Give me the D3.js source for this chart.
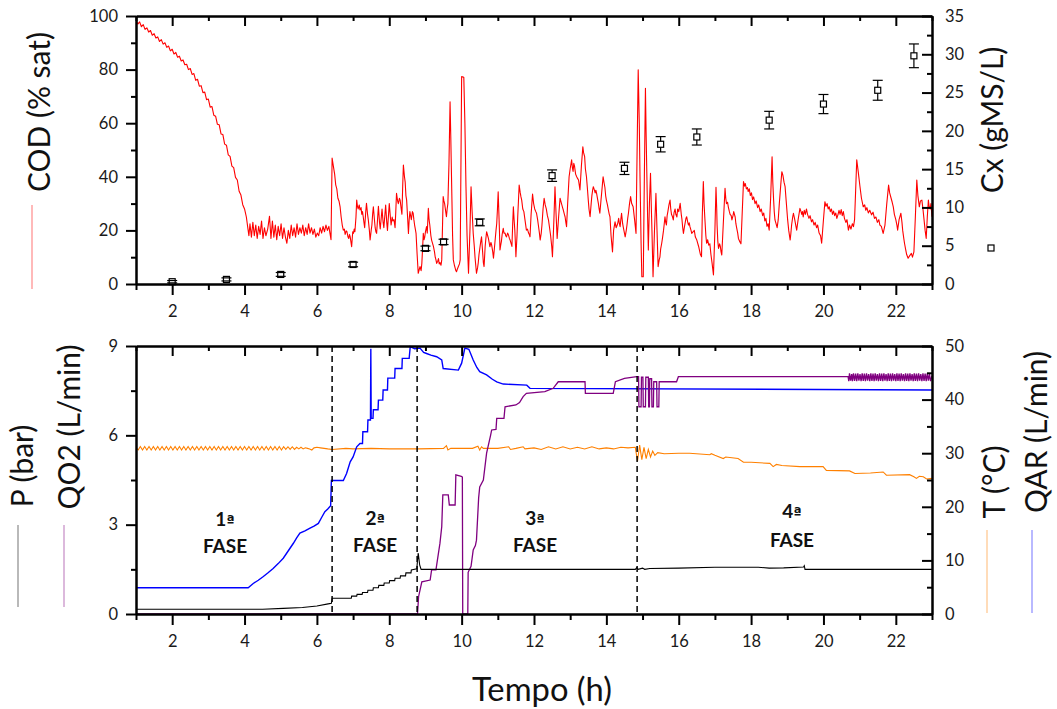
<!DOCTYPE html>
<html>
<head>
<meta charset="utf-8">
<script src="https://cdn.jsdelivr.net/npm/d3@7"></script>
<style>
  html, body { margin: 0; padding: 0; background: #fff; }
  svg { display: block; font-family: Lato, "Open Sans", sans-serif; }
  .axis path, .axis line { stroke: #000; stroke-width: 2; }
  .axis text { fill: #1a1a1a; font-family: Lato, "Open Sans", sans-serif; }
</style>
</head>
<body>
<svg id="chart" width="1057" height="709"></svg>
<script>
// ---------- time axis ----------
const timeMajorTicks = [2, 4, 6, 8, 10, 12, 14, 16, 18, 20, 22];
const timeMinorTicks = [1, 3, 5, 7, 9, 11, 13, 15, 17, 19, 21, 23];

// ---------- upper panel: dissolved oxygen (COD, % sat) ----------
const codSeries = [
  [1.00,98.5],[1.05,97.0],[1.10,97.8],[1.15,96.0],[1.20,96.8],[1.25,95.0],[1.30,95.6],[1.35,94.0],
  [1.40,94.6],[1.45,92.8],[1.50,93.4],[1.55,91.8],[1.60,92.2],[1.65,90.5],[1.70,91.2],[1.75,89.5],
  [1.80,90.0],[1.85,88.3],[1.90,88.8],[1.95,87.0],[2.00,87.6],[2.05,85.8],[2.10,86.4],[2.15,84.6],
  [2.20,85.0],[2.25,83.2],[2.30,83.6],[2.35,81.8],[2.40,82.0],[2.45,80.0],[2.50,80.4],[2.55,78.2],
  [2.60,78.5],[2.65,76.0],[2.70,76.4],[2.75,73.8],[2.80,74.0],[2.85,71.4],[2.90,71.6],[2.95,68.8],
  [3.00,69.0],[3.05,66.0],[3.10,66.2],[3.15,63.0],[3.20,62.6],[3.25,59.6],[3.30,59.4],[3.35,56.0],
  [3.40,55.8],[3.45,52.2],[3.50,51.8],[3.55,48.2],[3.60,47.6],[3.65,44.0],[3.70,43.4],[3.75,39.8],
  [3.80,38.8],[3.85,34.6],[3.90,33.2],[3.95,29.6],[4.00,28.0],[4.05,25.0],[4.10,20.0],
  [4.12,18.0],[4.15,22.5],[4.19,17.5],[4.23,23.0],[4.27,18.0],[4.31,22.0],[4.35,17.0],[4.39,21.5],
  [4.43,18.5],[4.47,23.5],[4.51,17.0],[4.55,21.0],[4.59,18.0],[4.64,20.5],[4.69,25.3],[4.73,17.0],
  [4.77,23.5],[4.81,17.5],[4.85,22.0],[4.89,16.5],[4.93,21.5],[4.97,18.0],[5.01,22.5],[5.05,17.0],
  [5.09,21.0],[5.13,17.5],[5.17,15.2],[5.21,20.0],[5.25,17.0],[5.29,22.0],[5.33,18.0],[5.37,21.0],
  [5.41,17.5],[5.45,22.5],[5.49,18.5],[5.53,21.0],[5.57,19.0],[5.61,22.0],[5.65,18.0],[5.69,21.0],
  [5.73,18.5],[5.77,22.5],[5.81,19.0],[5.85,21.0],[5.89,18.5],[5.93,20.5],[5.97,17.5],[6.01,19.0],
  [6.05,18.0],[6.09,21.0],[6.13,19.0],[6.17,21.5],[6.21,19.5],[6.25,22.0],[6.29,20.0],[6.33,21.5],
  [6.36,19.0],[6.39,16.5],[6.42,47.0],[6.46,43.5],[6.49,41.0],[6.52,37.0],[6.55,35.5],[6.58,32.0],
  [6.61,31.0],[6.64,28.9],[6.67,25.0],[6.70,22.0],[6.73,20.1],[6.76,20.5],[6.78,18.5],[6.81,19.8],
  [6.83,19.5],[6.86,17.5],[6.88,17.0],[6.90,18.5],[6.92,17.6],[6.96,13.9],[6.99,19.5],[7.01,18.9],
  [7.03,20.5],[7.05,19.5],[7.08,25.0],[7.10,31.3],[7.12,29.0],[7.14,28.0],[7.17,29.5],[7.19,27.6],
  [7.22,28.5],[7.24,26.0],[7.26,27.0],[7.28,25.1],[7.30,23.0],[7.32,21.0],[7.35,27.0],[7.37,30.1],
  [7.40,26.0],[7.42,24.0],[7.45,20.0],[7.47,16.4],[7.50,20.0],[7.52,22.0],[7.54,26.0],[7.56,28.8],
  [7.59,24.0],[7.61,21.0],[7.63,19.5],[7.65,18.9],[7.68,25.0],[7.70,29.0],[7.73,23.0],[7.75,20.5],
  [7.78,25.0],[7.80,28.0],[7.83,23.0],[7.85,21.0],[7.88,26.0],[7.90,29.5],[7.93,23.0],[7.95,20.0],
  [7.98,26.0],[8.00,30.0],[8.03,25.0],[8.05,22.0],[8.08,25.0],[8.10,23.5],[8.13,24.0],[8.16,21.0],
  [8.18,27.0],[8.20,33.8],[8.23,31.0],[8.25,30.0],[8.28,32.0],[8.30,31.3],[8.33,28.0],[8.35,26.0],
  [8.37,36.0],[8.39,44.4],[8.42,40.0],[8.44,38.0],[8.46,33.0],[8.48,31.3],[8.51,24.0],[8.53,18.9],
  [8.55,24.0],[8.57,27.0],[8.59,25.5],[8.61,24.0],[8.64,27.0],[8.66,26.4],[8.68,24.0],[8.70,22.0],
  [8.72,20.5],[8.74,18.9],[8.77,11.0],[8.80,4.0],[8.83,5.5],[8.85,6.5],[8.88,5.0],[8.90,7.7],
  [8.92,13.0],[8.94,18.9],[8.96,16.5],[8.98,17.5],[9.00,19.5],[9.03,21.4],[9.05,19.0],[9.08,28.2],
  [9.10,24.0],[9.12,22.0],[9.15,18.0],[9.17,16.4],[9.20,15.0],[9.22,14.0],[9.25,12.0],[9.27,10.0],
  [9.29,9.0],[9.31,7.7],[9.34,8.5],[9.36,9.5],[9.38,7.5],[9.40,8.0],[9.43,7.0],[9.45,9.0],
  [9.49,32.6],[9.51,31.0],[9.53,30.0],[9.56,27.0],[9.58,25.1],[9.60,28.0],[9.62,30.0],[9.65,45.0],
  [9.68,68.0],[9.70,55.0],[9.72,40.0],[9.75,18.0],[9.77,9.0],[9.80,7.0],[9.82,6.0],[9.84,5.0],
  [9.86,4.6],[9.88,5.5],[9.91,6.5],[9.94,7.5],[9.96,9.0],[10.00,77.4],[10.06,77.1],[10.09,60.0],
  [10.12,36.3],[10.15,18.0],[10.19,4.0],[10.23,20.0],[10.26,36.3],[10.29,27.0],[10.32,18.9],[10.35,14.0],
  [10.37,10.0],[10.39,7.0],[10.41,4.0],[10.44,6.0],[10.46,8.0],[10.48,11.0],[10.50,13.0],[10.53,16.0],
  [10.55,17.6],[10.58,12.0],[10.60,8.0],[10.62,6.5],[10.65,14.0],[10.67,17.0],[10.69,19.5],[10.72,18.0],
  [10.74,17.0],[10.76,15.5],[10.78,13.9],[10.81,15.5],[10.83,14.5],[10.86,12.0],[10.88,9.6],[10.91,14.0],
  [10.93,17.0],[10.95,20.0],[10.97,22.6],[10.99,28.0],[11.01,34.4],[11.04,22.0],[11.06,12.7],[11.08,14.5],
  [11.10,16.0],[11.12,18.5],[11.15,20.8],[11.17,19.0],[11.20,19.0],[11.22,18.0],[11.24,17.6],[11.27,19.0],
  [11.29,18.5],[11.32,17.0],[11.34,16.4],[11.37,15.0],[11.39,14.0],[11.41,22.0],[11.43,28.8],[11.45,24.0],
  [11.47,20.0],[11.49,14.0],[11.50,10.2],[11.53,18.0],[11.55,25.0],[11.57,31.0],[11.59,36.9],[11.62,34.0],
  [11.64,32.5],[11.66,31.3],[11.69,28.0],[11.72,27.0],[11.75,24.0],[11.79,20.1],[11.82,20.5],[11.85,19.0],
  [11.87,18.5],[11.89,17.6],[11.92,26.0],[11.96,33.6],[11.99,30.0],[12.02,28.0],[12.05,27.0],[12.07,26.4],
  [12.10,24.0],[12.12,22.0],[12.15,19.0],[12.17,16.4],[12.20,19.0],[12.22,22.0],[12.25,28.0],[12.28,32.0],
  [12.31,29.5],[12.34,28.0],[12.37,25.5],[12.40,23.9],[12.43,21.0],[12.46,18.0],[12.49,14.0],[12.51,10.2],
  [12.55,24.0],[12.58,36.3],[12.61,26.0],[12.64,17.0],[12.68,25.0],[12.72,32.0],[12.74,31.0],[12.76,30.0],
  [12.79,28.5],[12.81,27.6],[12.84,26.0],[12.86,25.0],[12.88,23.0],[12.90,21.4],[12.93,30.0],[12.97,40.0],
  [13.00,43.0],[13.04,46.3],[13.06,43.5],[13.08,42.0],[13.10,45.0],[13.12,44.0],[13.15,41.0],[13.18,40.0],
  [13.20,39.5],[13.23,38.8],[13.25,37.0],[13.27,35.1],[13.31,44.0],[13.35,51.2],[13.37,49.0],[13.40,47.5],
  [13.42,43.0],[13.45,40.0],[13.48,35.0],[13.50,31.3],[13.52,28.0],[13.55,25.1],[13.58,30.0],[13.60,33.0],
  [13.62,35.0],[13.64,36.3],[13.67,35.0],[13.69,34.0],[13.71,35.0],[13.73,33.8],[13.76,31.5],[13.78,30.0],
  [13.80,28.0],[13.82,26.4],[13.85,31.0],[13.87,34.0],[13.89,37.0],[13.91,40.0],[13.94,37.5],[13.96,36.0],
  [13.98,33.0],[14.00,31.3],[14.03,29.5],[14.05,28.0],[14.08,26.0],[14.10,25.1],[14.13,18.0],[14.17,12.0],
  [14.20,20.0],[14.24,23.2],[14.27,21.0],[14.30,22.0],[14.32,23.0],[14.34,24.5],[14.36,22.5],[14.38,21.4],
  [14.40,24.0],[14.42,26.4],[14.45,22.5],[14.47,21.0],[14.50,19.0],[14.52,17.6],[14.55,20.0],[14.57,22.0],
  [14.59,24.5],[14.61,26.4],[14.64,30.0],[14.67,32.6],[14.70,30.0],[14.74,28.8],[14.78,24.0],[14.82,18.9],
  [14.85,50.0],[14.88,79.9],[14.91,60.0],[14.93,40.0],[14.96,15.0],[14.98,2.7],[15.02,2.7],[15.05,40.0],
  [15.08,73.0],[15.10,55.0],[15.12,40.0],[15.14,25.0],[15.16,12.7],[15.19,30.0],[15.22,41.3],[15.24,30.0],
  [15.26,20.0],[15.29,2.7],[15.33,20.0],[15.37,33.8],[15.40,20.0],[15.43,6.5],[15.46,9.0],[15.48,10.0],
  [15.50,13.0],[15.53,15.2],[15.55,17.0],[15.58,20.0],[15.60,22.5],[15.62,25.1],[15.64,23.0],[15.66,22.0],
  [15.68,25.5],[15.70,27.0],[15.73,29.5],[15.76,31.3],[15.78,28.0],[15.80,26.0],[15.83,25.0],[15.85,23.9],
  [15.87,26.5],[15.90,28.0],[15.92,26.0],[15.95,25.0],[15.97,28.0],[16.00,27.0],[16.02,28.5],[16.04,30.1],
  [16.07,26.0],[16.09,24.0],[16.11,21.0],[16.13,18.9],[16.16,21.5],[16.18,23.0],[16.20,24.5],[16.22,25.1],
  [16.25,23.0],[16.27,22.0],[16.29,22.8],[16.31,21.4],[16.34,20.0],[16.36,18.9],[16.40,19.5],[16.43,20.0],
  [16.46,17.5],[16.50,16.4],[16.55,14.0],[16.60,11.0],[16.63,10.2],[16.65,25.0],[16.68,38.2],[16.70,30.0],
  [16.72,25.0],[16.75,18.0],[16.77,15.2],[16.80,16.5],[16.83,14.5],[16.86,15.0],[16.89,11.0],[16.92,8.0],
  [16.96,3.4],[17.00,20.0],[17.03,36.1],[17.05,28.0],[17.06,22.0],[17.08,16.0],[17.10,13.3],[17.13,15.0],
  [17.15,14.0],[17.17,12.0],[17.19,10.8],[17.23,22.0],[17.28,35.7],[17.30,32.0],[17.32,30.0],[17.35,30.5],
  [17.37,28.8],[17.40,27.0],[17.42,26.0],[17.45,25.5],[17.47,23.9],[17.50,25.5],[17.52,27.0],[17.54,26.0],
  [17.56,25.0],[17.58,22.5],[17.60,21.0],[17.63,19.0],[17.65,17.0],[17.68,16.0],[17.72,15.0],[17.75,25.0],
  [17.79,38.2],[17.82,36.5],[17.84,37.5],[17.87,35.5],[17.90,36.0],[17.92,34.5],[17.95,35.5],[17.98,33.0],
  [18.01,34.0],[18.04,31.5],[18.07,32.5],[18.11,30.0],[18.14,31.0],[18.18,28.5],[18.21,29.5],[18.25,27.0],
  [18.28,28.0],[18.32,25.5],[18.35,26.5],[18.38,23.5],[18.41,24.5],[18.44,21.5],[18.47,22.5],[18.50,20.1],
  [18.54,32.0],[18.58,47.5],[18.60,38.0],[18.62,32.0],[18.64,27.0],[18.66,23.9],[18.69,22.5],[18.72,21.0],
  [18.75,24.0],[18.78,30.0],[18.82,37.0],[18.85,41.9],[18.88,40.5],[18.91,38.0],[18.94,36.3],[18.97,31.0],
  [19.01,24.0],[19.04,20.0],[19.08,16.4],[19.10,19.0],[19.12,22.0],[19.15,25.0],[19.17,26.4],[19.20,24.5],
  [19.22,23.0],[19.24,21.5],[19.26,20.1],[19.30,24.0],[19.35,28.2],[19.38,27.0],[19.40,26.0],[19.42,27.0],
  [19.44,25.0],[19.47,27.5],[19.50,26.0],[19.53,28.0],[19.56,26.0],[19.60,24.5],[19.63,25.5],[19.67,23.2],
  [19.70,24.0],[19.74,22.0],[19.77,23.0],[19.81,21.0],[19.84,22.0],[19.88,19.0],[19.92,18.0],[19.95,15.2],
  [20.00,24.0],[20.04,30.7],[20.07,29.0],[20.10,30.0],[20.13,28.0],[20.16,28.8],[20.19,27.0],[20.22,28.0],
  [20.25,26.0],[20.28,27.2],[20.31,25.5],[20.34,26.5],[20.37,24.5],[20.40,25.8],[20.43,27.5],[20.46,26.0],
  [20.49,27.8],[20.52,25.5],[20.55,27.0],[20.58,24.5],[20.62,23.0],[20.65,24.0],[20.69,20.1],[20.72,22.0],
  [20.76,20.5],[20.80,22.5],[20.83,21.4],[20.86,24.0],[20.89,35.0],[20.92,46.3],[20.96,42.0],[21.01,36.3],
  [21.05,32.0],[21.10,28.8],[21.14,29.5],[21.17,27.5],[21.20,28.5],[21.24,26.5],[21.28,27.5],[21.33,25.8],
  [21.37,26.8],[21.41,24.5],[21.45,25.0],[21.49,23.0],[21.53,24.0],[21.56,22.0],[21.60,21.5],[21.65,18.9],
  [21.70,22.0],[21.75,30.0],[21.80,36.9],[21.83,34.0],[21.87,32.0],[21.90,30.5],[21.93,28.8],[21.96,26.0],
  [22.00,24.0],[22.03,22.0],[22.05,20.1],[22.09,24.0],[22.14,26.4],[22.17,23.0],[22.19,20.0],[22.22,17.0],
  [22.24,15.2],[22.27,13.0],[22.30,11.0],[22.34,9.6],[22.38,10.5],[22.43,11.4],[22.46,10.0],[22.50,12.0],
  [22.54,25.0],[22.58,38.8],[22.61,33.0],[22.65,28.8],[22.68,31.0],[22.72,31.3],[22.75,28.0],[22.78,24.0],
  [22.81,20.0],[22.84,17.0],[22.87,25.0],[22.90,31.3],[22.92,29.0],[22.95,28.0],[22.97,30.0],[23.00,25.1]
];

// ---------- upper panel: biomass (Cx, gMS/L) with error bars ----------
const cxTime  = [2, 3.5, 5, 7, 9, 9.5, 10.5, 12.5, 14.5, 15.5, 16.5, 18.5, 20, 21.5, 22.5];
const cxValue = [0.3, 0.6, 1.25, 2.55, 4.65, 5.5, 8.05, 14.15, 15.1, 18.25, 19.2, 21.4, 23.5, 25.3, 29.8];
const cxError = [0.15, 0.2, 0.25, 0.3, 0.3, 0.35, 0.45, 0.75, 0.8, 1.0, 1.05, 1.15, 1.25, 1.3, 1.55];

// ---------- lower panel: air flow (QAR, L/min) ----------
const qarSeries = [
  [1.00,4.9],[4.10,4.9],[4.24,5.7],[4.38,6.3],[4.52,7.0],[4.65,7.7],[4.79,8.5],[4.93,9.4],[5.07,10.4],
  [5.21,11.8],[5.35,13.2],[5.44,14.2],[5.53,15.1],[5.67,15.5],[5.81,16.0],[5.92,16.4],[6.04,16.9],
  [6.13,18.0],[6.22,19.1],[6.30,19.6],[6.38,20.2],[6.40,24.9],[6.73,24.9],[6.82,26.2],[6.92,28.4],
  [7.00,29.3],[7.10,31.2],[7.19,31.8],[7.26,31.8],[7.27,34.0],[7.40,34.0],[7.41,36.2],[7.48,36.2],
  [7.49,49.5],[7.50,36.5],[7.55,36.5],[7.56,38.1],[7.69,38.1],[7.70,39.9],[7.82,39.9],[7.83,41.8],
  [7.95,41.8],[7.96,44.0],[8.15,44.0],[8.16,45.8],[8.35,45.8],[8.36,47.7],[8.55,47.7],[8.58,49.9],
  [8.70,49.5],[8.85,49.6],[8.95,48.8],[9.03,48.6],[9.15,48.3],[9.31,48.0],[9.45,47.4],[9.49,45.8],
  [9.91,45.5],[10.00,46.8],[10.09,49.6],[10.20,49.4],[10.32,47.4],[10.42,46.0],[10.50,45.2],[10.69,44.6],
  [10.85,43.8],[10.97,43.3],[11.15,42.9],[11.80,42.7],[11.89,42.1],[23.00,41.8]
];

// ---------- lower panel: oxygen flow (QO2, L/min) ----------
const qo2Series = [
  [1.00,0],[8.78,0],[8.81,0.58],[8.90,1.08],[9.13,1.14],[9.17,1.48],[9.29,1.48],[9.40,2.37],[9.45,2.93],
  [9.48,4.0],[9.63,4.0],[9.66,3.66],[9.82,3.66],[9.84,4.67],[9.99,4.62],[10.02,4.6],[10.03,0],[10.17,0],
  [10.18,1.4],[10.26,1.6],[10.32,2.15],[10.38,2.3],[10.41,2.48],[10.47,3.9],[10.50,4.27],[10.60,4.5],
  [10.66,5.1],[10.69,5.4],[10.80,6.0],[10.83,6.18],[10.95,6.2],[10.97,6.57],[11.17,6.57],[11.20,6.96],
  [11.50,7.02],[11.60,7.1],[11.70,7.30],[11.79,7.41],[12.30,7.47],[12.53,7.58],[12.67,7.80],[13.41,7.80],
  [13.42,7.41],[14.19,7.41],[14.25,7.80],[14.50,7.91],[14.84,7.97],[14.89,7.97],[14.90,6.96],[14.96,6.96],
  [14.97,7.95],[15.01,7.95],[15.02,6.96],[15.08,6.96],[15.09,7.95],[15.16,7.95],[15.17,6.96],[15.19,6.96],
  [15.20,7.90],[15.25,7.90],[15.26,6.96],[15.30,6.96],[15.31,7.80],[15.39,7.80],[15.40,6.96],[15.45,6.96],
  [15.46,7.80],[15.94,7.80],[15.99,7.97],[20.68,7.97],
  [20.70,7.82],[20.72,8.08],[20.75,7.84],[20.78,8.06],[20.80,7.82],[20.83,8.08],[20.86,7.83],[20.89,8.07],
  [20.92,7.82],[20.95,8.08],[20.98,7.84],[21.01,8.06],[21.04,7.82],[21.07,8.08],[21.10,7.83],[21.13,8.07],
  [21.16,7.82],[21.19,8.08],[21.22,7.84],[21.25,8.06],[21.28,7.82],[21.31,8.08],[21.34,7.83],[21.37,8.07],
  [21.40,7.82],[21.43,8.08],[21.46,7.84],[21.49,8.06],[21.52,7.82],[21.55,8.08],[21.58,7.83],[21.61,8.07],
  [21.64,7.82],[21.67,8.08],[21.70,7.84],[21.73,8.06],[21.76,7.82],[21.79,8.08],[21.82,7.83],[21.85,8.07],
  [21.88,7.82],[21.91,8.08],[21.94,7.84],[21.97,8.06],[22.00,7.82],[22.03,8.08],[22.06,7.83],[22.09,8.07],
  [22.12,7.82],[22.15,8.08],[22.18,7.84],[22.21,8.06],[22.24,7.82],[22.27,8.08],[22.30,7.83],[22.33,8.07],
  [22.36,7.82],[22.39,8.08],[22.42,7.84],[22.45,8.06],[22.48,7.82],[22.51,8.08],[22.54,7.83],[22.57,8.07],
  [22.60,7.82],[22.63,8.08],[22.66,7.84],[22.69,8.06],[22.72,7.82],[22.75,8.08],[22.78,7.83],[22.81,8.07],
  [22.84,7.82],[22.87,8.08],[22.90,7.84],[22.93,8.06],[22.96,7.82],[23.00,8.00]
];

// ---------- lower panel: pressure (P, bar) ----------
const pSeries = [
  [1.00,0.16],[4.50,0.16],[5.07,0.19],[5.60,0.22],[6.00,0.27],[6.31,0.34],[6.40,0.36],[6.42,0.53],
  [6.95,0.53],[6.96,0.60],[7.10,0.60],[7.11,0.66],[7.25,0.66],[7.26,0.72],[7.40,0.72],[7.41,0.80],
  [7.55,0.80],[7.56,0.88],[7.70,0.88],[7.71,0.96],[7.85,0.96],[7.86,1.04],[8.00,1.04],[8.01,1.12],
  [8.15,1.12],[8.16,1.20],[8.30,1.20],[8.31,1.28],[8.45,1.28],[8.46,1.38],[8.60,1.38],[8.61,1.48],
  [8.76,1.52],[8.80,2.05],[8.84,1.65],[8.88,1.50],[14.80,1.50],[14.84,1.56],[14.88,1.50],[15.00,1.54],
  [15.06,1.50],[15.20,1.53],[16.00,1.54],[17.00,1.57],[18.20,1.57],[18.50,1.54],[18.90,1.55],
  [19.45,1.58],[19.47,1.62],[19.49,1.50],[23.00,1.50]
];

// ---------- lower panel: temperature (T, °C) ----------
const tempSeries = [
  [1.00,31.0],[1.06,30.6],[1.12,31.25],[1.18,30.6],[1.24,31.25],[1.30,30.6],[1.36,31.25],[1.42,30.6],
  [1.48,31.25],[1.54,30.6],[1.60,31.25],[1.66,30.6],[1.72,31.25],[1.78,30.6],[1.84,31.25],[1.90,30.6],
  [1.96,31.25],[2.02,30.6],[2.08,31.25],[2.14,30.6],[2.20,31.25],[2.26,30.6],[2.32,31.25],[2.38,30.6],
  [2.44,31.25],[2.50,30.6],[2.56,31.25],[2.62,30.6],[2.68,31.25],[2.74,30.6],[2.80,31.25],[2.86,30.6],
  [2.92,31.25],[2.98,30.6],[3.04,31.25],[3.10,30.6],[3.16,31.25],[3.22,30.6],[3.28,31.25],[3.34,30.6],
  [3.40,31.25],[3.46,30.6],[3.52,31.25],[3.58,30.6],[3.64,31.25],[3.70,30.6],[3.76,31.25],[3.82,30.6],
  [3.88,31.25],[3.94,30.6],[4.00,31.25],[4.06,30.6],[4.12,31.25],[4.18,30.6],[4.24,31.25],[4.30,30.6],
  [4.36,31.25],[4.42,30.6],[4.48,31.25],[4.54,30.6],[4.60,31.25],[4.66,30.6],[4.72,31.25],[4.78,30.6],
  [4.84,31.25],[4.90,30.6],[4.96,31.25],[5.02,30.6],[5.08,31.2],[5.14,30.7],[5.20,31.2],[5.26,30.7],
  [5.32,31.2],[5.38,30.7],[5.44,31.1],[5.50,30.8],[5.56,31.1],[5.62,30.8],[5.68,31.0],[5.74,30.9],
  [5.80,30.8],[5.86,30.6],[5.92,31.0],[6.00,31.1],[6.10,31.0],[6.20,30.9],[6.30,30.8],[6.42,30.7],
  [6.80,30.9],[7.00,30.8],[7.50,30.9],[8.00,30.8],[8.80,30.8],[9.50,30.9],[9.58,31.4],[9.62,30.6],
  [9.70,30.9],[10.30,30.9],[10.45,31.3],[10.50,30.6],[10.55,31.2],[10.60,30.9],[11.00,30.9],[11.30,31.2],
  [11.35,30.7],[11.50,30.9],[11.70,31.2],[11.75,30.8],[12.00,31.0],[12.20,30.7],[12.40,31.2],[12.60,30.8],
  [12.80,31.2],[13.00,30.8],[13.20,31.1],[13.40,30.8],[13.60,31.2],[13.80,30.8],[14.00,31.0],[14.20,30.8],
  [14.40,31.1],[14.60,31.0],[14.80,31.1],[14.86,28.5],[14.92,31.5],[14.98,28.8],[15.04,31.1],[15.10,29.0],
  [15.16,30.7],[15.22,29.3],[15.28,30.4],[15.34,29.6],[15.42,30.1],[15.60,29.9],[16.00,30.0],[16.30,30.0],
  [16.86,29.7],[16.90,29.9],[17.00,29.6],[17.23,29.0],[17.30,29.3],[17.64,29.0],[17.79,28.3],[18.00,28.3],
  [18.52,28.1],[18.61,27.5],[18.70,27.9],[18.85,27.7],[19.35,27.5],[19.99,27.5],[20.08,26.8],[20.72,26.7],
  [20.87,26.2],[21.30,26.3],[21.65,26.5],[21.74,25.9],[22.38,26.0],[22.50,25.6],[22.57,25.3],[22.65,25.7],
  [22.76,25.6],[22.85,25.2],[23.00,25.3]
];

// ---------- process phases ----------
const phaseBoundaries = [6.42, 8.77, 14.85];
const phaseLabels = [
  { num: "1", t: 3.46, numLevel: 2.95, nameLevel: 2.05 },
  { num: "2", t: 7.61, numLevel: 2.99, nameLevel: 2.08 },
  { num: "3", t: 12.03, numLevel: 2.99, nameLevel: 2.08 },
  { num: "4", t: 19.13, numLevel: 3.22, nameLevel: 2.25 }
];

// ---------- colours ----------
const colors = { cod: "#ff0000", p: "#000000", qo2: "#800080", temp: "#ff8000", qar: "#0000ff" };

// ---------- layout ----------
const svg = d3.select("#chart");
const plotLeft = 136, plotRight = 932;
const top1 = 16, bottom1 = 284, top2 = 346, bottom2 = 614;

const x = d3.scaleLinear().domain([1, 23]).range([plotLeft, plotRight]);
const yCod = d3.scaleLinear().domain([0, 100]).range([bottom1, top1]);
const yCx = d3.scaleLinear().domain([0, 35]).range([bottom1, top1]);
const yLeft2 = d3.scaleLinear().domain([0, 9]).range([bottom2, top2]);
const yRight2 = d3.scaleLinear().domain([0, 50]).range([bottom2, top2]);

const defs = svg.append("defs");
[["clip1", top1, bottom1], ["clip2", top2, bottom2]].forEach(([id, t, b]) => {
  defs.append("clipPath").attr("id", id).append("rect")
    .attr("x", plotLeft).attr("y", t - 1).attr("width", plotRight - plotLeft).attr("height", b - t + 2);
});

const tickFont = 16.5;

function drawAxes(yL, yR, lMajor, lMinor, rMajor, rMinor, yTop, yBottom) {
  const g = svg.append("g");
  // bottom: ticks outward, labelled
  g.append("g").attr("class", "axis").attr("transform", `translate(0,${yBottom})`)
    .call(d3.axisBottom(x).tickValues(timeMinorTicks).tickSizeInner(6).tickSizeOuter(0).tickFormat(""));
  g.append("g").attr("class", "axis").attr("transform", `translate(0,${yBottom})`)
    .call(d3.axisBottom(x).tickValues(timeMajorTicks).tickSizeInner(11).tickSizeOuter(0).tickPadding(10))
    .selectAll("text").attr("font-size", tickFont);
  // top: ticks pointing down into the plot
  g.append("g").attr("class", "axis").attr("transform", `translate(0,${yTop})`)
    .call(d3.axisTop(x).tickValues(timeMinorTicks).tickSizeInner(-5).tickSizeOuter(0).tickFormat(""));
  g.append("g").attr("class", "axis").attr("transform", `translate(0,${yTop})`)
    .call(d3.axisTop(x).tickValues(timeMajorTicks).tickSizeInner(-10).tickSizeOuter(0).tickFormat(""));
  // left: ticks outward
  g.append("g").attr("class", "axis").attr("transform", `translate(${plotLeft},0)`)
    .call(d3.axisLeft(yL).tickValues(lMinor).tickSizeInner(5).tickSizeOuter(0).tickFormat(""));
  g.append("g").attr("class", "axis").attr("transform", `translate(${plotLeft},0)`)
    .call(d3.axisLeft(yL).tickValues(lMajor).tickSizeInner(10).tickSizeOuter(0).tickPadding(8))
    .selectAll("text").attr("font-size", tickFont);
  // right: ticks pointing inward, labels outside
  g.append("g").attr("class", "axis").attr("transform", `translate(${plotRight},0)`)
    .call(d3.axisRight(yR).tickValues(rMinor).tickSizeInner(-5).tickSizeOuter(0).tickFormat(""));
  g.append("g").attr("class", "axis").attr("transform", `translate(${plotRight},0)`)
    .call(d3.axisRight(yR).tickValues(rMajor).tickSizeInner(-10).tickSizeOuter(0).tickPadding(13))
    .selectAll("text").attr("font-size", tickFont);
  g.selectAll(".axis text").attr("font-family", "Lato, 'Open Sans', sans-serif");
  return g;
}

const line = (sx, sy) => d3.line().x(d => sx(d[0])).y(d => sy(d[1]));

// ================= upper panel =================
const p1 = svg.append("g").attr("clip-path", "url(#clip1)");
p1.append("path").datum(codSeries)
  .attr("d", line(x, yCod)).attr("fill", "none")
  .attr("stroke", colors.cod).attr("stroke-width", 1.1).attr("stroke-linejoin", "round");

const cxData = cxTime.map((t, i) => ({ t, v: cxValue[i], e: cxError[i] }));
const cxG = svg.append("g");
const capHalf = 5, box = 6;
cxG.selectAll("line.bar").data(cxData).join("line").attr("class", "bar")
  .attr("x1", d => x(d.t)).attr("x2", d => x(d.t))
  .attr("y1", d => yCx(d.v - d.e)).attr("y2", d => yCx(d.v + d.e))
  .attr("stroke", "#000").attr("stroke-width", 1.2);
cxG.selectAll("rect.box").data(cxData).join("rect").attr("class", "box")
  .attr("x", d => x(d.t) - box / 2).attr("y", d => yCx(d.v) - box / 2)
  .attr("width", box).attr("height", box)
  .attr("fill", "#fff").attr("stroke", "#000").attr("stroke-width", 1.2);
["lo", "hi"].forEach(k => {
  cxG.selectAll("line.cap" + k).data(cxData).join("line").attr("class", "cap" + k)
    .attr("x1", d => x(d.t) - capHalf).attr("x2", d => x(d.t) + capHalf)
    .attr("y1", d => yCx(k === "lo" ? d.v - d.e : d.v + d.e))
    .attr("y2", d => yCx(k === "lo" ? d.v - d.e : d.v + d.e))
    .attr("stroke", "#000").attr("stroke-width", 1.2);
});

drawAxes(yCod, yCx, [0, 20, 40, 60, 80, 100], [10, 30, 50, 70, 90],
  [0, 5, 10, 15, 20, 25, 30, 35], [2.5, 7.5, 12.5, 17.5, 22.5, 27.5, 32.5], top1, bottom1);

// ================= lower panel =================
const p2 = svg.append("g").attr("clip-path", "url(#clip2)");
p2.append("path").datum(tempSeries).attr("d", line(x, yRight2))
  .attr("fill", "none").attr("stroke", colors.temp).attr("stroke-width", 1.1);
p2.append("path").datum(qarSeries).attr("d", line(x, yRight2))
  .attr("fill", "none").attr("stroke", colors.qar).attr("stroke-width", 1.4);
p2.append("path").datum(qo2Series).attr("d", line(x, yLeft2))
  .attr("fill", "none").attr("stroke", colors.qo2).attr("stroke-width", 1.3);
p2.append("path").datum(pSeries).attr("d", line(x, yLeft2))
  .attr("fill", "none").attr("stroke", colors.p).attr("stroke-width", 1.1);

// phase boundaries
svg.append("g").selectAll("line").data(phaseBoundaries).join("line")
  .attr("x1", d => x(d)).attr("x2", d => x(d))
  .attr("y1", top2).attr("y2", bottom2)
  .attr("stroke", "#000").attr("stroke-width", 1.5).attr("stroke-dasharray", "6,4");

const phaseG = svg.append("g").attr("font-family", "Lato, 'Open Sans', sans-serif")
  .attr("font-weight", "bold").attr("font-size", 19).attr("fill", "#111").attr("text-anchor", "middle");
const numText = phaseG.selectAll("text.num").data(phaseLabels).join("text").attr("class", "num")
  .attr("x", d => x(d.t)).attr("y", d => yLeft2(d.numLevel)).text(d => d.num);
numText.append("tspan").attr("font-family", "'DejaVu Sans', sans-serif").attr("font-size", 15).text("ª");
phaseG.selectAll("text.name").data(phaseLabels).join("text").attr("class", "name")
  .attr("x", d => x(d.t)).attr("y", d => yLeft2(d.nameLevel)).text("FASE");

drawAxes(yLeft2, yRight2, [0, 3, 6, 9], [1.5, 4.5, 7.5], [0, 10, 20, 30, 40, 50], [5, 15, 25, 35, 45], top2, bottom2);

// ================= titles and legend keys =================
const titleG = svg.append("g").attr("font-family", "Lato, 'Open Sans', sans-serif").attr("fill", "#111");
function vTitle(text, bx, cy) {
  return titleG.append("text").attr("transform", `translate(${bx},${cy}) rotate(-90)`)
    .attr("text-anchor", "middle").attr("font-size", 30).text(text);
}
const codTitle = vTitle("COD (% sat)", 50, 112);
// every axis title shares the size set by the first one
const titleSize = 30 * 160 / codTitle.node().getComputedTextLength();
codTitle.attr("font-size", titleSize);
[["Cx (gMS/L)", 1003, 120], ["P (bar)", 33, 466], ["QO2 (L/min)", 80, 427],
 ["T (°C)", 1005, 482], ["QAR (L/min)", 1047, 432]].forEach(([t, bx, cy]) => vTitle(t, bx, cy).attr("font-size", titleSize));

const timeTitle = titleG.append("text").attr("x", 542).attr("y", 701)
  .attr("text-anchor", "middle").attr("font-size", 30).text("Tempo (h)");
timeTitle.attr("font-size", 30 * 140 / timeTitle.node().getComputedTextLength());

const keys = [
  { c: colors.cod, kx: 32, y1: 205, y2: 289 },
  { c: colors.p, kx: 18, y1: 525, y2: 607 },
  { c: colors.qo2, kx: 64, y1: 525, y2: 607 },
  { c: colors.temp, kx: 987, y1: 530, y2: 613 },
  { c: colors.qar, kx: 1032, y1: 530, y2: 613 }
];
svg.append("g").selectAll("line").data(keys).join("line")
  .attr("x1", d => d.kx).attr("x2", d => d.kx).attr("y1", d => d.y1).attr("y2", d => d.y2)
  .attr("stroke", d => d.c).attr("stroke-width", 1).attr("stroke-opacity", 0.55);
svg.append("rect").attr("x", 988).attr("y", 245).attr("width", 6).attr("height", 6)
  .attr("fill", "#fff").attr("stroke", "#000").attr("stroke-width", 1.2);
</script>
</body>
</html>
